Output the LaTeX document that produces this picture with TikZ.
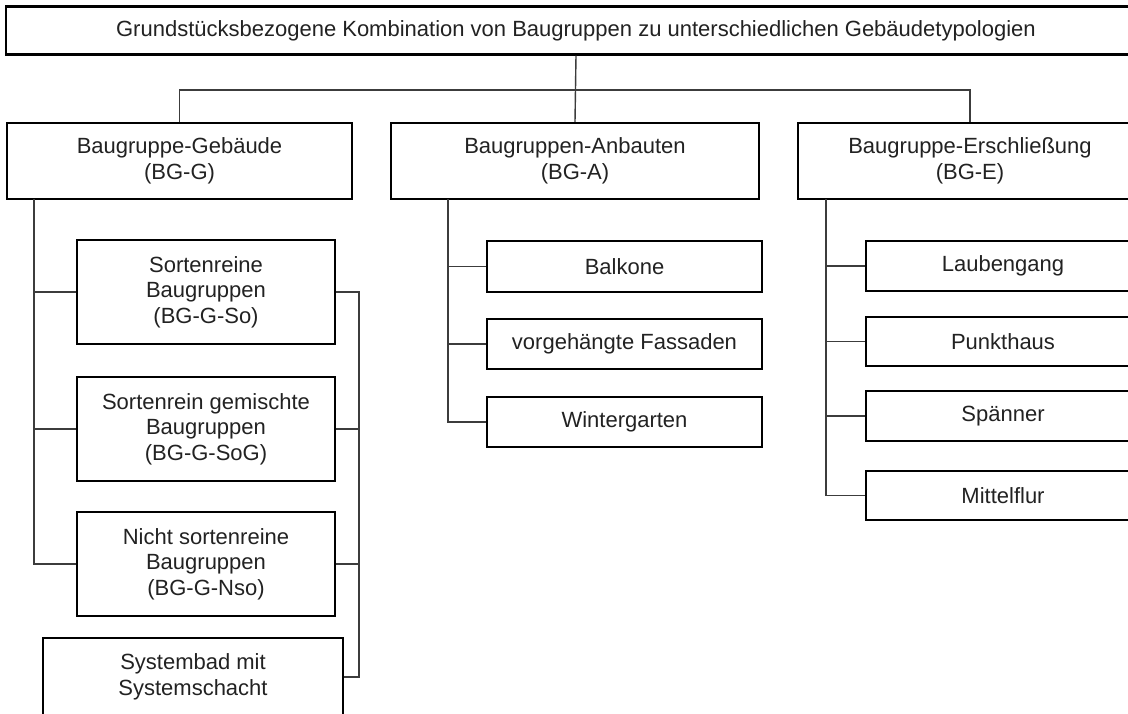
\documentclass[tikz,border=0pt]{standalone}
\usepackage{fontspec}
\setmainfont{Liberation Sans}
\begin{document}
\begin{tikzpicture}[x=1pt,y=-1pt,
  box/.style={draw=black, line width=2.2pt, fill=white, align=center,
    text=textgray, inner sep=0pt, font=\fontsize{22}{25.5}\selectfont},
  link/.style={draw=linkgray, line width=1.4pt}]
\definecolor{textgray}{HTML}{222222}
\definecolor{linkgray}{HTML}{3C3C3C}
\useasboundingbox (0,0) rectangle (1128,713);
\fill[white] (0,0) rectangle (1128,713);
\clip (0,0) rectangle (1128,713);

% root
\node[box, minimum width=1140pt, minimum height=48pt] (top) at (576,30.5)
  {Grundstücksbezogene Kombination von Baugruppen zu unterschiedlichen Gebäudetypologien};

% main groups
\node[box, minimum width=345pt, minimum height=76pt] (bgg) at (179.5,161)
  {Baugruppe-Gebäude\\(BG-G)};
\node[box, minimum width=368pt, minimum height=76pt] (bga) at (575,161)
  {Baugruppen-Anbauten\\(BG-A)};
\node[box, minimum width=344pt, minimum height=76pt] (bge) at (970,161)
  {Baugruppe-Erschließung\\(BG-E)};

% BG-G children
\node[box, minimum width=258pt, minimum height=104pt] (gso) at (206,292)
  {Sortenreine\\Baugruppen\\(BG-G-So)};
\node[box, minimum width=258pt, minimum height=104pt] (gsog) at (206,429)
  {Sortenrein gemischte\\Baugruppen\\(BG-G-SoG)};
\node[box, minimum width=258pt, minimum height=104pt] (gnso) at (206,564)
  {Nicht sortenreine\\Baugruppen\\(BG-G-Nso)};
\node[box, minimum width=300pt, minimum height=78pt] (sys) at (193,677)
  {Systembad mit\\Systemschacht};

% BG-A children
\node[box, minimum width=275pt, minimum height=51pt] (balk) at (624.5,266.5) {Balkone};
\node[box, minimum width=275pt, minimum height=50pt] (fass) at (624.5,344) {vorgehängte Fassaden};
\node[box, minimum width=275pt, minimum height=50pt] (wint) at (624.5,422) {Wintergarten};

% BG-E children
\node[box, minimum width=274pt, minimum height=50pt] (laub) at (1003,266) {Laubengang};
\node[box, minimum width=274pt, minimum height=49pt] (punkt) at (1003,341.5) {Punkthaus};
\node[box, minimum width=274pt, minimum height=50pt] (span) at (1003,416) {Spänner};
\node[box, minimum width=274pt, minimum height=49pt] (mittel) at (1003,495.5) {Mittelflur};

% branching points
\coordinate (bus) at (576,90);
\coordinate (gtrunk) at (34,199);
\coordinate (atrunk) at (448,199);
\coordinate (etrunk) at (826,199);
\coordinate (brk) at (359,0);

% root to main groups
\draw[link] (top.south) -- (bga.north);
\draw[link] (bgg.north) |- (bus) -| (bge.north);

% BG-G tree
\draw[link] (gtrunk) |- (gnso.west);
\draw[link] (gtrunk |- gso.west) -- (gso.west);
\draw[link] (gtrunk |- gsog.west) -- (gsog.west);

% bracket on the right of BG-G children
\draw[link] (gso.east) -- (gso.east -| brk) -- (sys.east -| brk) -- (sys.east);
\draw[link] (gsog.east) -- (gsog.east -| brk);
\draw[link] (gnso.east) -- (gnso.east -| brk);

% BG-A tree
\draw[link] (atrunk) |- (wint.west);
\draw[link] (atrunk |- balk.west) -- (balk.west);
\draw[link] (atrunk |- fass.west) -- (fass.west);

% BG-E tree
\draw[link] (etrunk) |- (mittel.west);
\draw[link] (etrunk |- laub.west) -- (laub.west);
\draw[link] (etrunk |- punkt.west) -- (punkt.west);
\draw[link] (etrunk |- span.west) -- (span.west);
\end{tikzpicture}
\end{document}
